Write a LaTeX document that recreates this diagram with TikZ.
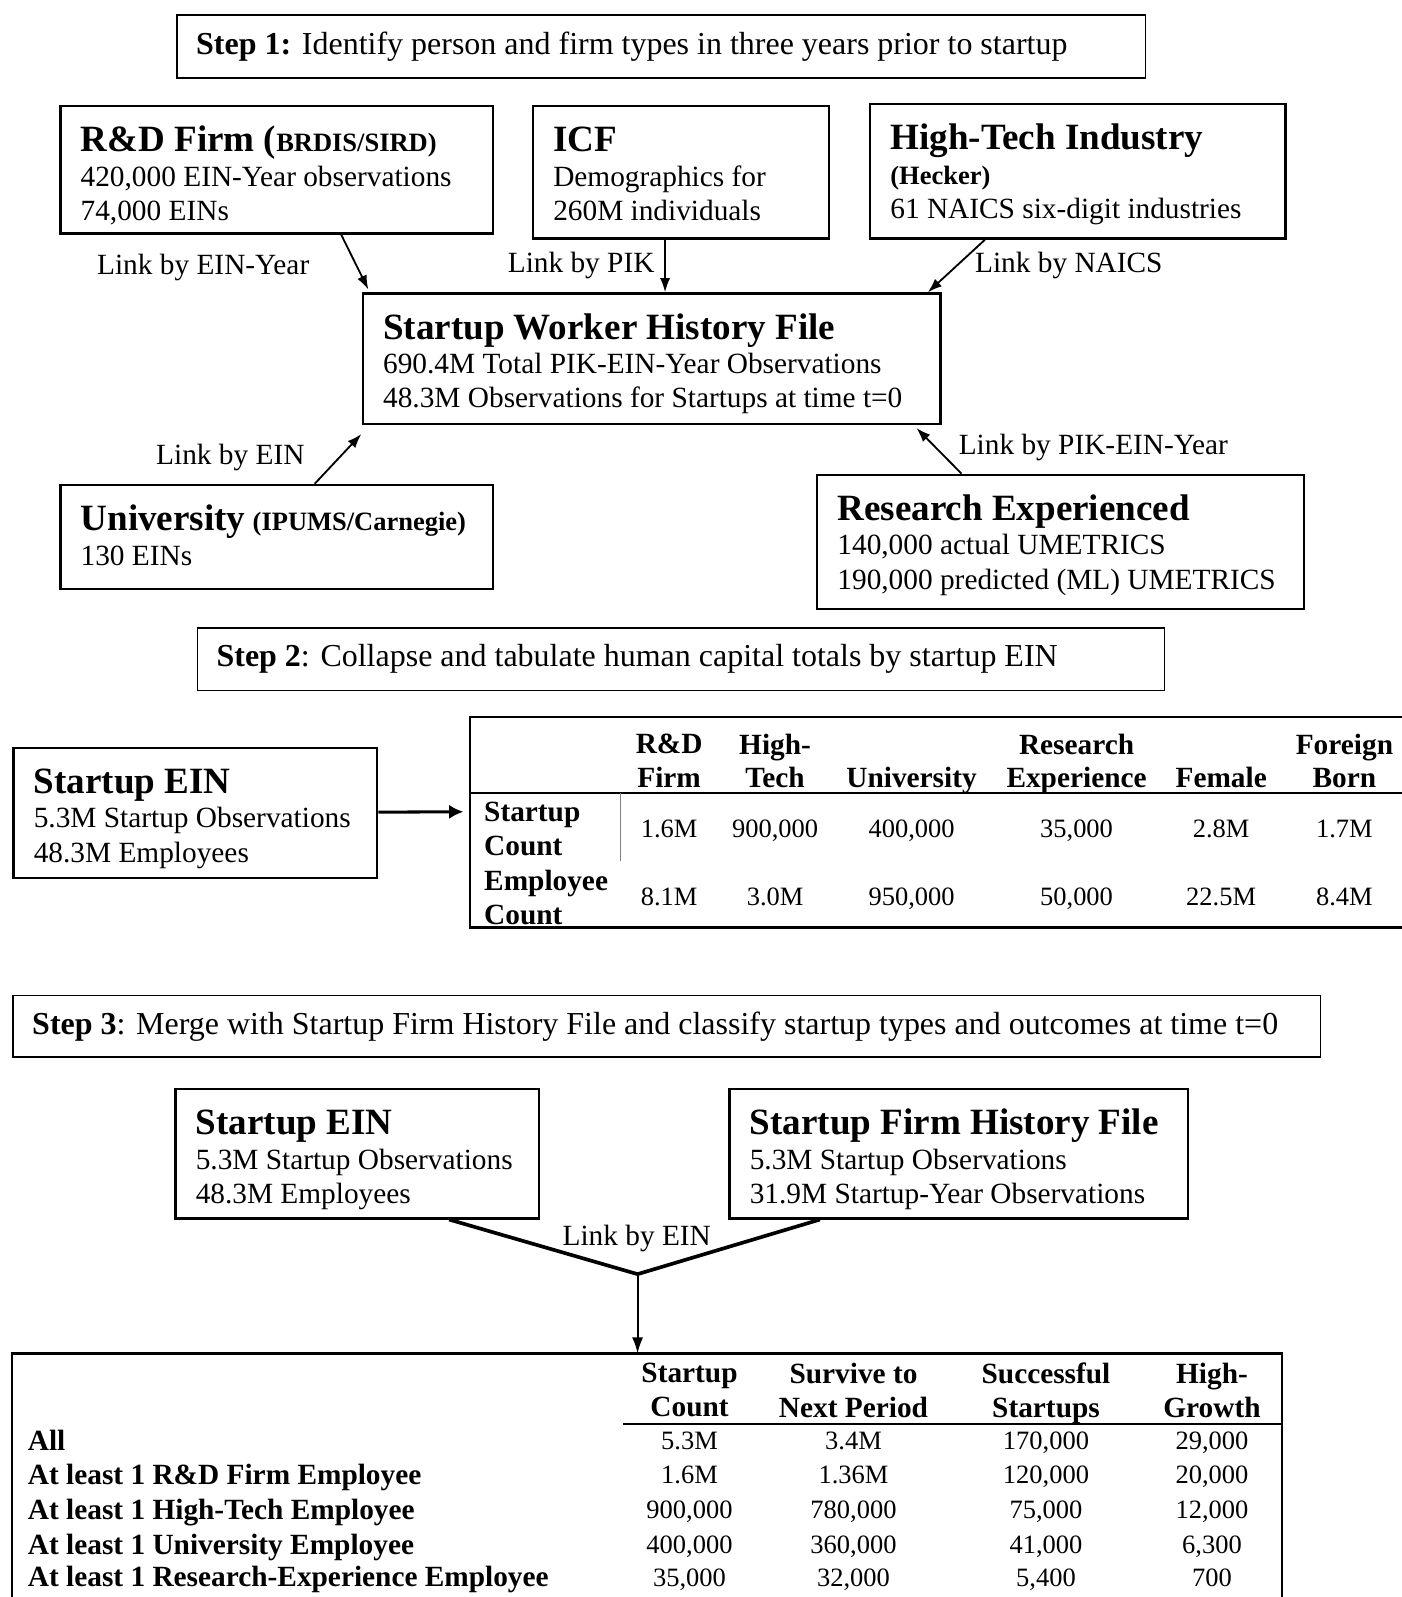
\documentclass[tikz,border=0pt]{standalone}
\usepackage{fontspec}
\setmainfont{Liberation Serif}
\usetikzlibrary{arrows.meta}

\newcommand{\boxtitle}[1]{{\fontsize{18.2}{20}\selectfont\bfseries #1}}
\newcommand{\boxsub}[1]{{\fontsize{13}{15}\selectfont\bfseries #1}}
\newcommand{\boxtext}[3]{\parbox[c][#2][t]{#1}{\begin{tabular}{@{}l@{}}\rule{0pt}{22.5pt}#3\end{tabular}}}

\tikzset{
  srcbox/.style={draw, line width=1.2pt, anchor=north west, inner xsep=10pt,
    inner ysep=0pt, font=\fontsize{14.4}{16.8}\selectfont},
  stepbox/.style={draw, line width=0.65pt, anchor=north west, inner xsep=9.5pt,
    inner ysep=0pt, font=\fontsize{15.7}{18}\selectfont},
  linktext/.style={inner sep=0pt, font=\fontsize{14.4}{16.8}\selectfont},
  link/.style={-{Latex[length=7pt,width=5pt]}, line width=0.9pt},
  headcell/.style={inner sep=0pt, align=center, font=\fontsize{14.4}{16.5}\selectfont\bfseries},
  rowcell/.style={inner sep=0pt, anchor=west, align=left, font=\fontsize{14.4}{16.5}\selectfont\bfseries},
  rowlabel/.style={inner sep=0pt, anchor=west, text height=0.72em, text depth=0.22em,
    font=\fontsize{14.4}{16.5}\selectfont\bfseries},
  numcell/.style={inner sep=0pt, text height=0.72em, text depth=0.22em,
    font=\fontsize{13}{15}\selectfont},
  tabrule/.style={line width=1pt},
}

\begin{document}
\begin{tikzpicture}[x=0.5pt, y=-0.5pt]
\useasboundingbox (0,0) rectangle (1376,1568);

% step 1: sources
\node[stepbox, minimum height=31pt] (step1) at (173,14) {\makebox[456.5pt][l]{\textbf{Step 1:} Identify person and firm types in three years prior to startup}};

\node[srcbox] (rnd) at (58,103) {\boxtext{192.5pt}{62.5pt}{\boxtitle{R\&D Firm (}\boxsub{BRDIS/SIRD)}\\ 420,000 EIN-Year observations\\ 74,000 EINs}};
\node[srcbox] (icf) at (522,103) {\boxtext{125.5pt}{65pt}{\boxtitle{ICF}\\ Demographics for\\ 260M individuals}};
\node[srcbox] (htech) at (853,101) {\boxtext{184pt}{66pt}{\boxtitle{High-Tech Industry}\\ \boxsub{(Hecker)}\\ 61 NAICS six-digit industries}};
\node[srcbox] (swhf) at (355,287) {\boxtext{263.5pt}{64pt}{\boxtitle{Startup Worker History File}\\ 690.4M Total PIK-EIN-Year Observations\\ 48.3M Observations for Startups at time t=0}};
\node[srcbox] (univ) at (58,475) {\boxtext{192.5pt}{51pt}{\boxtitle{University} \boxsub{(IPUMS/Carnegie)}\\ 130 EINs}};
\node[srcbox] (resx) at (801,465) {\boxtext{219pt}{66pt}{\boxtitle{Research Experienced}\\ 140,000 actual UMETRICS\\ 190,000 predicted (ML) UMETRICS}};

\node[linktext, anchor=west] (lnkrnd) at (95,263) {Link by EIN-Year};
\node[linktext, anchor=east] (lnkicf) at (643,261) {Link by PIK};
\node[linktext, anchor=west] (lnkhtech) at (957,261) {Link by NAICS};
\node[linktext, anchor=west] (lnkuniv) at (153,449) {Link by EIN};
\node[linktext, anchor=west] (lnkresx) at (941,439) {Link by PIK-EIN-Year};

\draw[link, shorten >=1.5pt] (rnd.south -| 335,0) -- (swhf.north -| 363,0);
\draw[link] (icf.south -| 653,0) -- (swhf.north -| 653,0);
\draw[link] (htech.south -| 967,0) -- (swhf.north -| 911,0);
\draw[link, shorten >=6pt] (univ.north -| 309,0) -- (swhf.south -| 363,0);
\draw[link, shorten >=2pt] (resx.north -| 944,0) -- (swhf.south -| 897,0);

% step 2: collapse
\node[stepbox, minimum height=30.5pt] (step2) at (193,616) {\makebox[456pt][l]{\textbf{Step 2}: Collapse and tabulate human capital totals by startup EIN}};

\node[srcbox] (sein) at (12,733) {\boxtext{158.5pt}{64pt}{\boxtitle{Startup EIN}\\ 5.3M Startup Observations\\ 48.3M Employees}};
\coordinate (tabb) at (461,797);
\draw[-{Latex[length=7pt,width=7pt]}, line width=1.5pt, shorten >=3pt] (sein) -- (tabb);

\draw[line width=1.4pt] (461,704) -- (1380,704);
\draw[line width=1.4pt] (461,911) -- (1380,911);
\draw[tabrule] (461,703) -- (461,912);
\draw[tabrule] (461,779) -- (1380,779);
\draw[gray, line width=0.6pt] (609,779) -- (609,845);

\node[headcell] (hb1) at (657,747) {R\&D\\Firm};
\node[headcell] (hb2) at (761,747) {High-\\Tech};
\node[headcell] (hb3) at (895,766) {University};
\node[headcell] (hb4) at (1057,750) {Research\\Experience};
\node[headcell] (hb5) at (1199,763) {Female};
\node[headcell] (hb6) at (1320,747) {Foreign\\Born};

\node[rowcell] (rb1) at (475,814) {Startup\\Count};
\node[rowcell] (rb2) at (475,881) {Employee\\Count};

\node[numcell] (b11) at (657,817) {1.6M};
\node[numcell] (b12) at (761,817) {900,000};
\node[numcell] (b13) at (895,817) {400,000};
\node[numcell] (b14) at (1057,817) {35,000};
\node[numcell] (b15) at (1199,817) {2.8M};
\node[numcell] (b16) at (1320,817) {1.7M};
\node[numcell] (b21) at (657,884) {8.1M};
\node[numcell] (b22) at (761,884) {3.0M};
\node[numcell] (b23) at (895,884) {950,000};
\node[numcell] (b24) at (1057,884) {50,000};
\node[numcell] (b25) at (1199,884) {22.5M};
\node[numcell] (b26) at (1320,884) {8.4M};

% step 3: merge
\node[stepbox, minimum height=30pt] (step3) at (12,977) {\makebox[623pt][l]{\textbf{Step 3}: Merge with Startup Firm History File and classify startup types and outcomes at time t=0}};

\node[srcbox] (seinb) at (171,1068) {\boxtext{158.5pt}{63.5pt}{\boxtitle{Startup EIN}\\ 5.3M Startup Observations\\ 48.3M Employees}};
\node[srcbox] (sfhf) at (715,1068) {\boxtext{205pt}{63.5pt}{\boxtitle{Startup Firm History File}\\ 5.3M Startup Observations\\ 31.9M Startup-Year Observations}};

\coordinate (vjoin) at (626,1251);
\coordinate (tabc) at (626,1329);
\draw[line width=1.8pt] (seinb.south -| 441,0) -- (vjoin) -- (sfhf.south -| 805,0);
\draw[-{Latex[length=8pt,width=5.5pt]}, line width=1pt] (vjoin) -- (tabc);
\node[linktext, anchor=west] (lnkmerge) at (552,1216) {Link by EIN};

\draw[line width=1.1pt] (12,1580) -- (12,1329) -- (1259,1329) -- (1259,1580);
\draw[tabrule] (612,1398) -- (1259,1398);

\node[headcell] (hc1) at (677,1365) {Startup\\Count};
\node[headcell] (hc2) at (838,1365) {Survive to\\Next Period};
\node[headcell] (hc3) at (1027,1368) {Successful\\Startups};
\node[headcell] (hc4) at (1190,1365) {High-\\Growth};

\node[rowlabel] (rc1) at (27,1419) {All};
\node[rowlabel] (rc2) at (27,1453) {At least 1 R\&D Firm Employee};
\node[rowlabel] (rc3) at (27,1487) {At least 1 High-Tech Employee};
\node[rowlabel] (rc4) at (27,1521) {At least 1 University Employee};
\node[rowlabel] (rc5) at (27,1553) {At least 1 Research-Experience Employee};

\node[numcell] (c11) at (677,1418) {5.3M};
\node[numcell] (c12) at (838,1418) {3.4M};
\node[numcell] (c13) at (1027,1418) {170,000};
\node[numcell] (c14) at (1190,1418) {29,000};
\node[numcell] (c21) at (677,1452) {1.6M};
\node[numcell] (c22) at (838,1452) {1.36M};
\node[numcell] (c23) at (1027,1452) {120,000};
\node[numcell] (c24) at (1190,1452) {20,000};
\node[numcell] (c31) at (677,1486) {900,000};
\node[numcell] (c32) at (838,1486) {780,000};
\node[numcell] (c33) at (1027,1486) {75,000};
\node[numcell] (c34) at (1190,1486) {12,000};
\node[numcell] (c41) at (677,1520) {400,000};
\node[numcell] (c42) at (838,1520) {360,000};
\node[numcell] (c43) at (1027,1520) {41,000};
\node[numcell] (c44) at (1190,1520) {6,300};
\node[numcell] (c51) at (677,1553) {35,000};
\node[numcell] (c52) at (838,1553) {32,000};
\node[numcell] (c53) at (1027,1553) {5,400};
\node[numcell] (c54) at (1190,1553) {700};
\end{tikzpicture}
\end{document}
